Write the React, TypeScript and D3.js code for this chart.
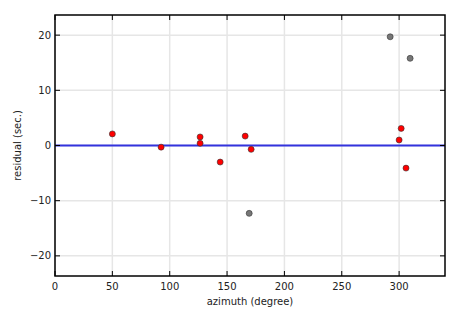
import React from "react";
import * as d3 from "d3";

const redAz = [50, 92.5, 126.5, 126.5, 144, 165.8, 171, 301.8, 300, 306];
const redRes = [2.1, -0.3, 1.55, 0.4, -3.0, 1.7, -0.7, 3.1, 1.0, -4.1];
const grayAz = [169.3, 292.2, 309.6];
const grayRes = [-12.3, 19.7, 15.8];
const xTicks = [0, 50, 100, 150, 200, 250, 300];
const yTicks = [-20, -10, 0, 10, 20];

const W = 465, H = 315;
const L = 55, R = 445, T = 15, B = 276;

export default function App() {
  const x = d3.scaleLinear().domain([0, 340]).range([L, R]);
  const y = d3.scaleLinear().domain([-23.65, 23.65]).range([B, T]);
  const fmt = (v: number) => (v < 0 ? "\u2212" + Math.abs(v) : String(v));
  const font = "DejaVu Sans, sans-serif";
  return (
    <svg width={W} height={H} style={{ position: "absolute", left: 0, top: 0 }}>
      <rect x={0} y={0} width={W} height={H} fill="white" />
      {xTicks.map((t) => (
        <line key={"gx" + t} x1={x(t)} x2={x(t)} y1={T} y2={B} stroke="#e6e6e6" strokeWidth={1.5} />
      ))}
      {yTicks.map((t) => (
        <line key={"gy" + t} x1={L} x2={R} y1={y(t)} y2={y(t)} stroke="#e6e6e6" strokeWidth={1.5} />
      ))}
      <line x1={L} x2={R} y1={y(0)} y2={y(0)} stroke="#3333dd" strokeWidth={1.8} />
      {grayAz.map((a, i) => (
        <circle key={"g" + i} cx={x(a)} cy={y(grayRes[i])} r={3} fill="#777777" stroke="#333" strokeWidth={0.6} />
      ))}
      {redAz.map((a, i) => (
        <circle key={"r" + i} cx={x(a)} cy={y(redRes[i])} r={3} fill="#ff0000" stroke="#333" strokeWidth={0.6} />
      ))}
      {xTicks.map((t) => (
        <g key={"tx" + t}>
          <line x1={x(t)} x2={x(t)} y1={B} y2={B - 5} stroke="black" strokeWidth={1} />
          <line x1={x(t)} x2={x(t)} y1={T} y2={T + 5} stroke="black" strokeWidth={1} />
          <text x={x(t)} y={290} fontSize={10} fontFamily={font} textAnchor="middle" fill="#222">{fmt(t)}</text>
        </g>
      ))}
      {yTicks.map((t) => (
        <g key={"ty" + t}>
          <line x1={L} x2={L + 5} y1={y(t)} y2={y(t)} stroke="black" strokeWidth={1} />
          <line x1={R} x2={R - 5} y1={y(t)} y2={y(t)} stroke="black" strokeWidth={1} />
          <text x={51} y={y(t) + 3.5} fontSize={10} fontFamily={font} textAnchor="end" fill="#222">{fmt(t)}</text>
        </g>
      ))}
      <rect x={L} y={T} width={R - L} height={B - T} fill="none" stroke="black" strokeWidth={1.5} />
      <text x={(L + R) / 2} y={305} fontSize={10} fontFamily={font} textAnchor="middle" fill="#222">azimuth (degree)</text>
      <text transform={`translate(21,${(T + B) / 2}) rotate(-90)`} fontSize={10} fontFamily={font} textAnchor="middle" fill="#222">residual (sec.)</text>
    </svg>
  );
}
